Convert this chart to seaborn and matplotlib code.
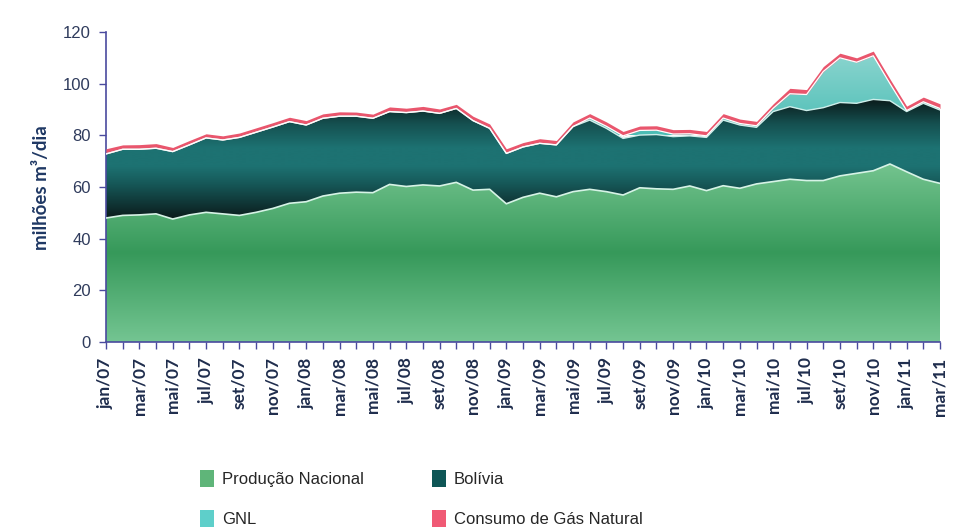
import numpy as np
import matplotlib
matplotlib.use("Agg")
import matplotlib.pyplot as plt
import seaborn as sns
from matplotlib.colors import LinearSegmentedColormap
from matplotlib.patches import Patch

# ---------------- data (milhões m³/dia) ----------------
meses = ["jan", "fev", "mar", "abr", "mai", "jun", "jul", "ago", "set", "out", "nov", "dez"]
rotulos = [f"{meses[i % 12]}/{7 + i // 12:02d}" for i in range(51)]  # jan/07 .. mar/11

producao = [48.0, 49.0, 49.2, 49.6, 47.6, 49.2, 50.2, 49.6, 49.0, 50.2, 51.7,
            53.7, 54.3, 56.5, 57.6, 58.0, 57.8, 61.0, 60.2, 60.8, 60.4,
            61.8, 58.8, 59.1, 53.5, 56.0, 57.6, 56.2, 58.2, 59.1, 58.2,
            56.9, 59.7, 59.3, 59.1, 60.4, 58.6, 60.5, 59.5, 61.2, 62.1,
            63.0, 62.5, 62.5, 64.3, 65.3, 66.3, 68.9, 65.9, 63.0, 61.4]

bolivia = [24.8, 25.6, 25.4, 25.4, 26.1, 27.1, 28.8, 28.6, 30.2, 31.0, 31.5,
           31.6, 29.7, 30.1, 29.8, 29.4, 28.8, 28.2, 28.6, 28.6, 28.1,
           28.6, 26.9, 23.6, 19.5, 19.5, 19.3, 20.1, 25.2, 26.8, 24.5,
           21.9, 20.4, 21.0, 20.4, 19.4, 20.6, 25.4, 24.5, 21.9, 27.1,
           28.1, 27.1, 28.2, 28.4, 27.1, 27.6, 24.5, 23.3, 29.4, 28.4]

gnl = [0.0, 0.0, 0.0, 0.0, 0.0, 0.0, 0.0, 0.0, 0.0, 0.0, 0.0,
       0.0, 0.0, 0.0, 0.0, 0.0, 0.0, 0.0, 0.0, 0.0, 0.0,
       0.0, 0.0, 0.0, 0.0, 0.0, 0.0, 0.0, 0.0, 0.8, 0.8,
       1.0, 1.8, 1.7, 1.0, 0.8, 0.6, 0.8, 0.6, 0.6, 1.3,
       5.0, 6.2, 14.0, 17.3, 15.9, 16.9, 6.6, 0.4, 0.6, 0.6]

consumo = [74.8, 76.3, 76.4, 76.8, 75.3, 78.0, 80.6, 79.8, 80.9, 82.9, 84.9,
           87.0, 85.7, 88.3, 89.1, 89.0, 88.2, 91.0, 90.5, 91.2, 90.2,
           92.0, 87.4, 84.4, 74.8, 77.2, 78.7, 78.0, 85.2, 88.4, 85.2,
           81.5, 83.6, 83.7, 82.2, 82.3, 81.5, 88.4, 86.3, 85.4, 92.2,
           98.2, 97.7, 106.6, 111.8, 110.0, 112.6, 101.8, 91.3, 94.8, 92.2]

series_nomes = ["Produção Nacional", "Bolívia", "GNL", "Consumo de Gás Natural"]
yticks = [0, 20, 40, 60, 80, 100, 120]

# ---------------- style ----------------
sns.set_theme(style="white")
plt.rcParams["font.family"] = ["Liberation Sans", "DejaVu Sans"]

axis_col = "#4a4a9e"
navy = "#1f2d4d"

fig = plt.figure(figsize=(9.57, 5.30), dpi=100)
ax = fig.add_axes([106 / 957, 1 - 342 / 530, (940 - 106) / 957, (342 - 32) / 530])

x = np.arange(len(rotulos))
y1 = np.array(producao)
y2 = y1 + np.array(bolivia)
y3 = y2 + np.array(gnl)
yc = np.array(consumo)


def grad_fill(lower, upper, stops, vmin, vmax, z):
    poly = ax.fill_between(x, lower, upper, facecolor="none", edgecolor="none",
                           linewidth=0, zorder=z)
    cmap = LinearSegmentedColormap.from_list("g", stops)
    grad = np.linspace(0, 1, 512).reshape(-1, 1)
    im = ax.imshow(grad, extent=[x[0], x[-1], vmin, vmax], origin="lower",
                   aspect="auto", cmap=cmap, zorder=z, interpolation="bilinear")
    im.set_clip_path(poly.get_paths()[0], transform=ax.transData)


grad_fill(0, y1, [(0, "#74c592"), (0.5, "#36995a"), (1, "#74c48f")], 0, 69, 1)
grad_fill(y1, y2, [(0, "#0a1717"), (0.3, "#165757"), (0.45, "#1d7272"),
                   (0.6, "#1d7272"), (0.8, "#155050"), (1, "#0a1a1a")], 47, 94, 2)
grad_fill(y2, y3, [(0, "#4bbdb5"), (1, "#8ed6d0")], 80, 113, 3)
ax.fill_between(x, y3, yc, color="#e9566d", linewidth=0, zorder=4)

sns.lineplot(x=x, y=y1, color="#d6f3e6", linewidth=1.2, ax=ax, zorder=6)
sns.lineplot(x=x, y=y2, color="#cdeeea", linewidth=1.0, ax=ax, zorder=6)
sns.lineplot(x=x, y=y3, color="#ffffff", linewidth=0.9, ax=ax, zorder=6)

ax.set_xlim(0, len(x) - 1)
ax.set_ylim(0, 120)
ax.set_yticks(yticks)
ax.set_yticklabels([str(v) for v in yticks], fontsize=12, color="#2f3b5c")
ax.set_xticks(x)
ax.set_xticklabels([r if i % 2 == 0 else "" for i, r in enumerate(rotulos)],
                   rotation=90, fontsize=12.5, color=navy,
                   fontfamily="Lato", fontweight="bold")
ax.tick_params(axis="both", which="both", direction="out", color=axis_col,
               length=5, width=1, bottom=True, left=True)
ax.tick_params(axis="x", pad=6)
ax.tick_params(axis="y", pad=6)
for s in ["top", "right"]:
    ax.spines[s].set_visible(False)
for s in ["left", "bottom"]:
    ax.spines[s].set_color(axis_col)
    ax.spines[s].set_linewidth(1.2)
ax.grid(False)
ax.set_xlabel("")
ax.set_ylabel("")

fig.text(42 / 957, 1 - 188 / 530, "milhões m³/dia", rotation=90, ha="center",
         va="center", fontsize=13.5, fontweight="bold", color="#1f3864",
         fontfamily="Lato")

cores = ["#5fb579", "#0e5656", "#5ecfca", "#f05a75"]
handles = [Patch(facecolor=c, edgecolor="none") for c in cores]
order = [0, 2, 1, 3]
fig.legend([handles[i] for i in order], [series_nomes[i] for i in order],
           ncol=2, loc="upper left", bbox_to_anchor=(200 / 957, 1 - 470 / 530),
           frameon=False, handlelength=0.85, handleheight=1.15,
           handletextpad=0.45, columnspacing=4.1, labelspacing=1.4,
           borderpad=0, borderaxespad=0,
           prop={"family": "Liberation Sans", "size": 12})

fig.savefig("out.png", dpi=100)
